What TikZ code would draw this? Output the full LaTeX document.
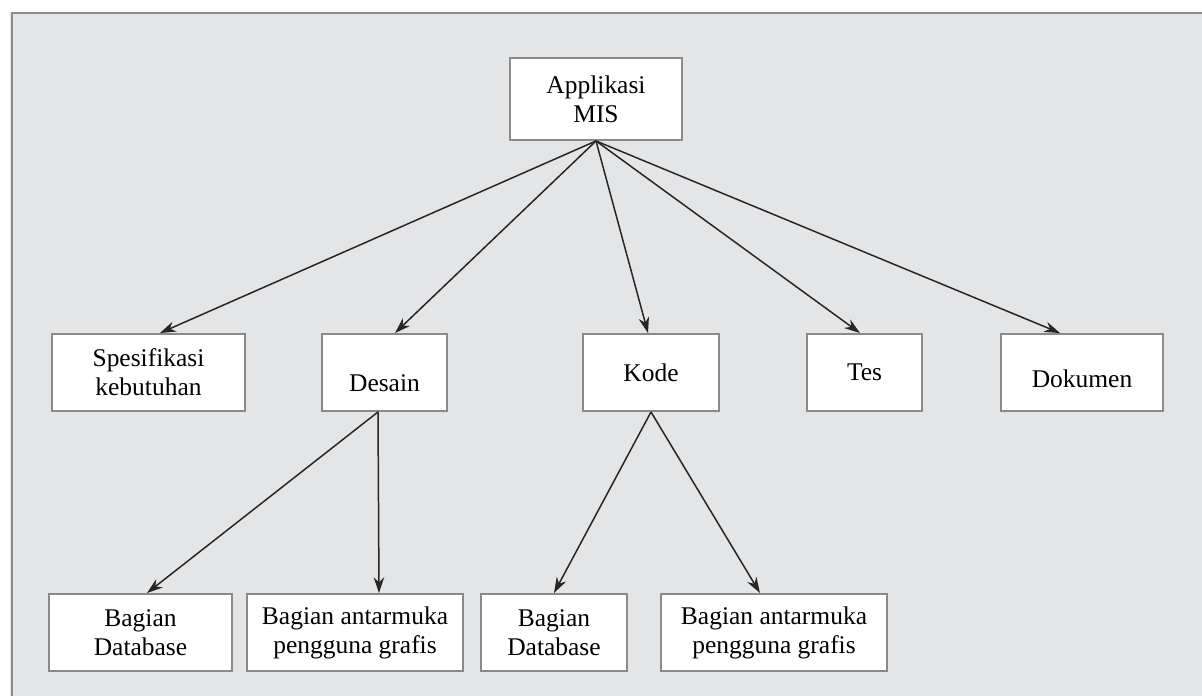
\documentclass[tikz,border=0pt]{standalone}
\usepackage{fontspec}
\setmainfont{Liberation Serif}
\usetikzlibrary{arrows.meta}
\definecolor{panelgray}{HTML}{E4E5E7}
\definecolor{edgegray}{HTML}{8A8A8A}

\begin{document}
\begin{tikzpicture}[
    box/.style={draw=edgegray, line width=1.1pt, fill=white, align=center,
        inner sep=2pt, minimum height=1.54cm, font=\fontsize{14.5}{16.5}\selectfont},
    link/.style={->, draw=black!85, line width=0.85pt},
    >={Stealth[length=9pt,width=6pt]}
]
    \useasboundingbox (0,0) rectangle (24.04,-13.92);

    % Background panel
    \fill[panelgray] (0.2,-0.26) rectangle (24.04,-13.92);
    \draw[edgegray, line width=1.5pt] (0.24,-13.92) -- (0.24,-0.26) -- (24.04,-0.26);

    % Top (application)
    \node[box, minimum width=3.44cm, minimum height=1.64cm] (mis) at (11.92,-1.98) {Applikasi\\MIS};

    % Level 1 (deliverables)
    \node[box, minimum width=3.86cm] (spec) at (2.97,-7.45) {Spesifikasi\\kebutuhan};
    \node[box, minimum width=2.5cm] (desain) at (7.69,-7.45) {\rule{0pt}{22pt}Desain};
    \node[box, minimum width=2.72cm] (kode) at (13.02,-7.45) {Kode};
    \node[box, minimum width=2.3cm] (tes) at (17.29,-7.45) {Tes};
    \node[box, minimum width=3.24cm] (dok) at (21.64,-7.45) {\rule{0pt}{17.5pt}Dokumen};

    % Level 2 (parts)
    \node[box, minimum width=3.66cm] (db1) at (2.81,-12.65) {Bagian\\Database};
    \node[box, minimum width=4.32cm] (gui1) at (7.10,-12.65) {Bagian antarmuka\\pengguna grafis};
    \node[box, minimum width=2.92cm] (db2) at (11.08,-12.65) {Bagian\\Database};
    \node[box, minimum width=4.52cm] (gui2) at (15.48,-12.65) {Bagian antarmuka\\pengguna grafis};

    % Connections from the top
    \draw[link] (mis.south) -- ([xshift=0.23cm]spec.north);
    \draw[link] (mis.south) -- ([xshift=0.21cm]desain.north);
    \draw[link] (mis.south) -- ([xshift=-0.06cm]kode.north);
    \draw[link] (mis.south) -- ([xshift=-0.09cm]tes.north);
    \draw[link] (mis.south) -- ([xshift=-0.44cm]dok.north);

    % Connections to the parts
    \draw[link] ([xshift=-0.13cm]desain.south) -- ([xshift=0.13cm]db1.north);
    \draw[link] ([xshift=-0.13cm]desain.south) -- ([xshift=0.48cm]gui1.north);
    \draw[link] (kode.south) -- (db2.north);
    \draw[link] (kode.south) -- ([xshift=-0.28cm]gui2.north);

\end{tikzpicture}
\end{document}
